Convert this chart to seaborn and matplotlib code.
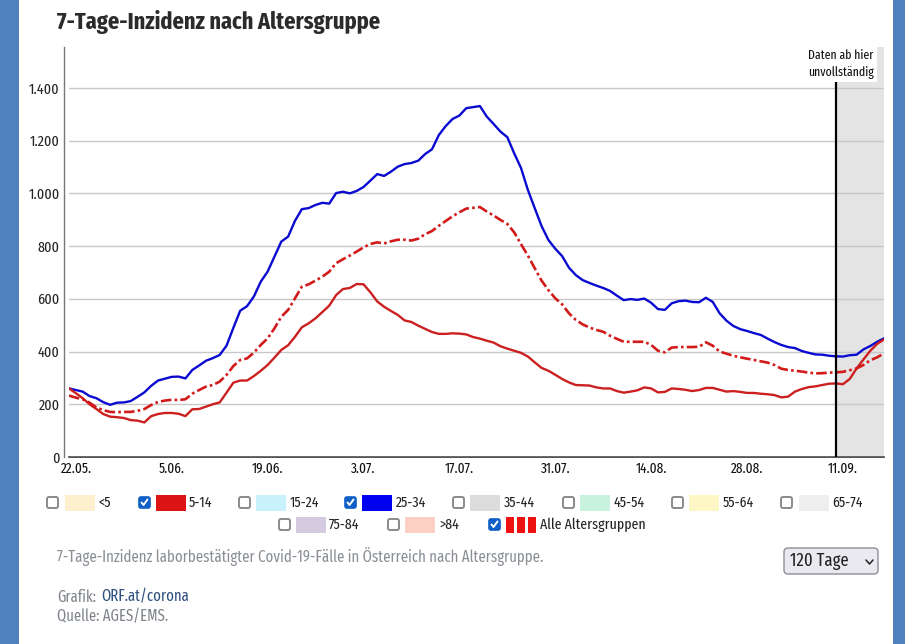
import logging
import pandas as pd
import matplotlib
matplotlib.use("Agg")
import matplotlib.pyplot as plt
import matplotlib.transforms as mtrans
from matplotlib.patches import Rectangle, FancyBboxPatch
import seaborn as sns

# values, one per day from 22.05.
age_25_34 = [260, 254, 248, 231, 223, 208, 198, 206, 207, 212,
             228, 245, 270, 290, 297, 304, 305, 298, 330, 347,
             365, 375, 387, 422, 490, 555, 572, 609, 665, 703,
             760, 817, 836, 896, 940, 944, 956, 964, 961, 1001,
             1006, 1000, 1009, 1024, 1048, 1073, 1066, 1082, 1101, 1111,
             1115, 1124, 1149, 1167, 1221, 1255, 1282, 1295, 1323, 1327,
             1331, 1291, 1263, 1234, 1213, 1152, 1096, 1013, 944, 876,
             823, 790, 762, 718, 690, 671, 660, 650, 641, 630,
             612, 595, 599, 596, 601, 585, 561, 558, 583, 591,
             593, 588, 587, 604, 588, 545, 517, 497, 485, 478,
             470, 463, 449, 436, 425, 417, 413, 402, 395, 389,
             388, 384, 382, 381, 386, 388, 408, 421, 437, 450]

age_5_14 = [260, 242, 223, 200, 182, 163, 153, 151, 148, 140,
            138, 131, 155, 163, 167, 167, 164, 155, 181, 182,
            191, 200, 207, 244, 282, 290, 290, 307, 327, 349,
            377, 406, 424, 456, 492, 507, 526, 550, 574, 614,
            637, 641, 656, 655, 625, 590, 570, 554, 539, 518,
            512, 498, 486, 474, 467, 467, 469, 468, 465, 455,
            449, 441, 434, 420, 411, 403, 395, 381, 359, 338,
            327, 312, 296, 283, 273, 272, 271, 264, 260, 260,
            250, 244, 248, 253, 264, 260, 245, 247, 260, 258,
            255, 250, 254, 262, 262, 255, 248, 250, 247, 243,
            243, 240, 238, 235, 226, 229, 248, 258, 265, 268,
            273, 278, 279, 276, 296, 336, 370, 403, 429, 446]

all_ages = [233, 225, 219, 206, 188, 178, 171, 170, 171, 171,
            175, 182, 197, 209, 214, 217, 216, 219, 240, 254,
            267, 273, 286, 311, 345, 368, 374, 396, 425, 450,
            488, 532, 558, 602, 646, 655, 669, 684, 703, 735,
            750, 764, 779, 795, 808, 814, 810, 818, 824, 824,
            821, 828, 845, 857, 877, 895, 913, 928, 942, 945,
            948, 931, 916, 899, 884, 852, 807, 764, 716, 669,
            633, 602, 579, 545, 520, 503, 491, 482, 475, 460,
            448, 437, 437, 437, 437, 425, 403, 397, 415, 417,
            417, 417, 418, 435, 422, 400, 392, 384, 378, 373,
            368, 363, 358, 349, 335, 330, 327, 324, 320, 317,
            318, 320, 321, 323, 329, 336, 349, 367, 378, 393]

tick_dates = ["2021-05-22", "2021-06-05", "2021-06-19", "2021-07-03", "2021-07-17",
              "2021-07-31", "2021-08-14", "2021-08-28", "2021-09-11"]
tick_labels = ["22.05.", "5.06.", "19.06.", "3.07.", "17.07.", "31.07.", "14.08.", "28.08.", "11.09."]
y_ticks = [0, 200, 400, 600, 800, 1000, 1200, 1400]
y_labels = ["0", "200", "400", "600", "800", "1.000", "1.200", "1.400"]

legend_names = ["<5", "5-14", "15-24", "25-34", "35-44", "45-54", "55-64", "65-74", "75-84", ">84", "Alle Altersgruppen"]
legend_colors = ["#fdf0cf", "#dc1414", "#c8f1fb", "#0000f0", "#dcdcdc", "#c8f2dd", "#fdf7c5", "#eeeeee",
                 "#d5cbe0", "#fdd0c4", "#ee1111"]
legend_checked = ["5-14", "25-34", "Alle Altersgruppen"]
# checkbox left edge and row of each legend entry, in pixels
legend_x = [46, 138, 238, 344, 452, 562, 671, 780, 278, 387, 488]
legend_y = [503, 503, 503, 503, 503, 503, 503, 503, 525, 525, 525]
swatch_gap = [19, 18, 18, 18, 18, 18, 18, 19, 18, 18, 18]
label_gap = [33, 33, 34, 34, 34, 33, 34, 33, 33, 34, 34]

W, H = 905, 644
# narrow face first, the plain ones only in case it is not there
NARROW = ["Fira Sans Extra Condensed", "Roboto Condensed", "Roboto", "DejaVu Sans"]

logging.getLogger("matplotlib.font_manager").setLevel(logging.ERROR)
sns.set_theme(style="white")
plt.rcParams["font.family"] = NARROW

days = pd.date_range("2021-05-22", periods=len(age_25_34))
df = pd.DataFrame({"date": days, "a": age_25_34, "b": age_5_14, "all": all_ages})

fig = plt.figure(figsize=(W / 100, H / 100), dpi=100, facecolor="#4f82bf")

# page layer in pixel coordinates
page = fig.add_axes([0, 0, 1, 1], zorder=0)
page.set_xlim(0, W)
page.set_ylim(H, 0)
page.axis("off")
page.add_patch(Rectangle((19, 0), 874, H, fc="white", ec="none"))

page.text(57, 22, "7-Tage-Inzidenz nach Altersgruppe", fontsize=17.5, fontweight="bold",
          color="#2b2b2d", va="center", ha="left")

# legend with fake checkboxes
for i, name in enumerate(legend_names):
    x, y = legend_x[i], legend_y[i]
    checked = name in legend_checked
    if checked:
        page.add_patch(FancyBboxPatch((x + 1, y - 6), 11, 11, boxstyle="round,pad=0,rounding_size=2",
                                      fc="#0f5fc6", ec="#0f5fc6", lw=1.2))
        page.plot([x + 3.5, x + 5.5, x + 9.5], [y - 0.5, y + 2, y - 3.5], color="white", lw=1.4)
    else:
        page.add_patch(FancyBboxPatch((x + 1, y - 6), 11, 11, boxstyle="round,pad=0,rounding_size=2",
                                      fc="white", ec="#8a8a8a", lw=1.4))
    sx = x + swatch_gap[i]
    if name == "Alle Altersgruppen":
        for k in range(3):
            page.add_patch(Rectangle((sx + k * 11, y - 8), 8, 16, fc=legend_colors[i], ec="none"))
    else:
        page.add_patch(Rectangle((sx, y - 8), 30, 16, fc=legend_colors[i], ec="none"))
    page.text(x + swatch_gap[i] + label_gap[i], y, name, fontsize=10.8, color="#222222", va="center", ha="left")

page.text(57, 557, "7-Tage-Inzidenz laborbestätigter Covid-19-Fälle in Österreich nach Altersgruppe.",
          fontsize=11.6, color="#8a8f96", va="center", ha="left")
page.text(57, 597, "Grafik:", fontsize=11.5, color="#80858c", va="center", ha="left")
page.text(101, 597, "ORF.at/corona", fontsize=11.5, color="#2f4f7f", va="center", ha="left")
page.text(57, 617, "Quelle: AGES/EMS.", fontsize=11.5, color="#80858c", va="center", ha="left")

# the dropdown
page.add_patch(FancyBboxPatch((784, 548), 94, 26, boxstyle="round,pad=0,rounding_size=4",
                              fc="#e9e9ef", ec="#8a8f99", lw=1))
page.text(790, 561, "120 Tage", fontsize=13, color="#222222", va="center", ha="left")
page.plot([866, 869.5, 873], [560, 564, 560], color="#222222", lw=1.1)

# the chart itself, axes runs from first to last day
ax = fig.add_axes([69 / W, 1 - 457 / H, (884 - 69) / W, (457 - 47) / H], zorder=1)
ax.patch.set_alpha(0)
sns.lineplot(data=df, x="date", y="a", color="#0a0ad0", lw=1.7, ax=ax, zorder=4)
sns.lineplot(data=df, x="date", y="b", color="#cc1f1f", lw=1.7, ax=ax, zorder=4)
sns.lineplot(data=df, x="date", y="all", color="#d31a1a", lw=1.9, linestyle=(0, (4, 1.2, 1, 1.2)), ax=ax, zorder=5)

cut = pd.Timestamp("2021-09-11")
ax.set_xlim(days[0], days[-1])
ax.set_ylim(0, 1555)
ax.axvspan(cut, days[-1], color="#e4e4e4", lw=0, zorder=1)
ax.plot([cut, cut], [0, 1430], color="black", lw=1.6, zorder=6)

ax.set_yticks(y_ticks)
ax.set_yticklabels(y_labels, fontsize=10.5, color="#111111")
ax.set_xticks(pd.to_datetime(tick_dates))
ax.set_xticklabels(tick_labels, fontsize=10.4, color="#111111")
ax.tick_params(axis="both", length=0)
ax.tick_params(axis="x", pad=3.5)
ax.tick_params(axis="y", pad=3)
# labels sit a bit to the right of their date
shift = mtrans.ScaledTranslation(7 / 100, 0, fig.dpi_scale_trans)
for lab in ax.get_xticklabels():
    lab.set_transform(lab.get_transform() + shift)

ax.set_xlabel("")
ax.set_ylabel("")
ax.grid(axis="y", color="#c8c8c8", lw=1)
ax.set_axisbelow(False)
for line in ax.get_ygridlines():
    line.set_zorder(2)
ax.spines["top"].set_visible(False)
ax.spines["right"].set_visible(False)
ax.spines["left"].set_position(("outward", 3.6))
ax.spines["left"].set_color("#777777")
ax.spines["left"].set_linewidth(1)
ax.spines["bottom"].set_color("#333333")
ax.spines["bottom"].set_linewidth(1.2)

# note above the cut line, white box over the grey band
ax.annotate("Daten ab hier\nunvollständig", xy=(841, H - 64), xycoords="figure pixels", ha="center", va="center",
            fontsize=9.2, color="#111111", linespacing=1.4, zorder=8,
            bbox=dict(fc="white", ec="none", pad=2))

fig.savefig("out.png", dpi=100, facecolor=fig.get_facecolor())
